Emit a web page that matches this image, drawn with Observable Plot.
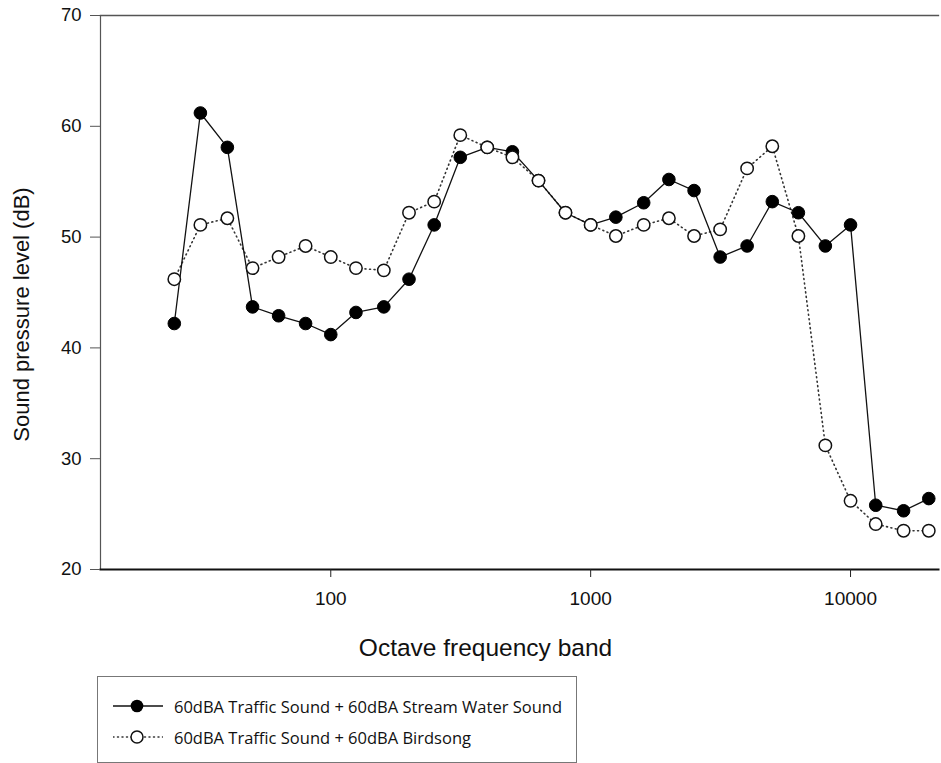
<!DOCTYPE html>
<html>
<head>
<meta charset="utf-8">
<script src="https://cdn.jsdelivr.net/npm/d3@7"></script>
<script src="https://cdn.jsdelivr.net/npm/@observablehq/plot@0.6"></script>
<style>
  html, body { margin: 0; padding: 0; background: #fff; }
  #wrap { position: relative; width: 941px; height: 763px; overflow: hidden; }
  #legend { position: absolute; left: 97px; top: 676px; width: 480px; height: 87px; border: 1px solid #777; box-sizing: border-box; font-family: "Open Sans", "Noto Sans", sans-serif; font-size: 16.5px; color: #111; }
  .row { position: absolute; left: 0; height: 20px; display: flex; align-items: center; }
  .row svg { position: absolute; left: 15px; top: 0; }
  .row span { position: absolute; left: 76px; white-space: nowrap; }
</style>
</head>
<body>
<div id="wrap">
  <div id="chart"></div>
  <div id="legend"></div>
</div>
<script>
const freqs = [25, 31.5, 40, 50, 63, 80, 100, 125, 160, 200, 250, 315, 400, 500, 630, 800, 1000, 1250, 1600, 2000, 2500, 3150, 4000, 5000, 6300, 8000, 10000, 12500, 16000, 20000];
const streamWater = [42.2, 61.2, 58.1, 43.7, 42.9, 42.2, 41.2, 43.2, 43.7, 46.2, 51.1, 57.2, 58.1, 57.7, 55.1, 52.2, 51.1, 51.8, 53.1, 55.2, 54.2, 48.2, 49.2, 53.2, 52.2, 49.2, 51.1, 25.8, 25.3, 26.4];
const birdsong = [46.2, 51.1, 51.7, 47.2, 48.2, 49.2, 48.2, 47.2, 47.0, 52.2, 53.2, 59.2, 58.1, 57.2, 55.1, 52.2, 51.1, 50.1, 51.1, 51.7, 50.1, 50.7, 56.2, 58.2, 50.1, 31.2, 26.2, 24.1, 23.5, 23.5];
const yTicks = [20, 30, 40, 50, 60, 70];
const xTicks = [100, 1000, 10000];
const seriesNames = ["60dBA Traffic Sound + 60dBA Stream Water Sound", "60dBA Traffic Sound + 60dBA Birdsong"];
const xTitle = "Octave frequency band";
const yTitle = "Sound pressure level (dB)";

const data = freqs.map((f, i) => ({f, stream: streamWater[i], bird: birdsong[i]}));

const chart = Plot.plot({
  width: 941,
  height: 670,
  marginLeft: 100,
  marginRight: 3,
  marginTop: 15,
  marginBottom: 101,
  style: {fontFamily: "'Liberation Sans', Arial, sans-serif", fontSize: "18px", color: "#111", background: "white", overflow: "visible"},
  x: {type: "log", domain: [13, 21800]},
  y: {domain: [20, 70]},
  marks: [
    Plot.frame({anchor: "top", stroke: "#555", strokeWidth: 1.3}),
    Plot.frame({anchor: "left", stroke: "#555", strokeWidth: 1.2}),
    Plot.frame({anchor: "bottom", stroke: "#111", strokeWidth: 2}),
    Plot.axisY({ticks: yTicks, tickSize: 10, tickPadding: 9, label: null, fontSize: 18.5, stroke: "#555"}),
    Plot.axisX({ticks: xTicks, tickSize: 8, tickPadding: 14, tickFormat: d3.format("d"), label: null, fontSize: 19, stroke: "#222"}),
    Plot.line(data, {x: "f", y: "bird", stroke: "#333", strokeWidth: 1.6, strokeDasharray: "1 3.5", strokeLinecap: "round"}),
    Plot.line(data, {x: "f", y: "stream", stroke: "#111", strokeWidth: 1.3}),
    Plot.dot(data, {x: "f", y: "stream", r: 6.3, fill: "#000", stroke: "#000", strokeWidth: 1}),
    Plot.dot(data, {x: "f", y: "bird", r: 6.2, fill: "#fff", stroke: "#111", strokeWidth: 1.5}),
    Plot.text([yTitle], {frameAnchor: "left", textAnchor: "middle", lineAnchor: "middle", dx: -79, dy: 22, rotate: -90, fontSize: 22, fill: "#111"}),
    Plot.text([xTitle], {frameAnchor: "bottom", textAnchor: "middle", lineAnchor: "middle", dx: -34, dy: 79, fontSize: 24.5, fill: "#111"})
  ]
});
document.getElementById("chart").appendChild(chart);

// legend (below the plot)
const legend = document.getElementById("legend");
const swatches = [
  `<svg width="50" height="20"><line x1="0" x2="50" y1="10" y2="10" stroke="#111" stroke-width="1.5"/><circle cx="24" cy="10" r="6.3" fill="#000"/></svg>`,
  `<svg width="50" height="20"><line x1="0" x2="50" y1="10" y2="10" stroke="#333" stroke-width="1.5" stroke-dasharray="1 3.5" stroke-linecap="round"/><circle cx="24" cy="10" r="6" fill="#fff" stroke="#111" stroke-width="1.5"/></svg>`
];
const rowCenters = [29, 60];
seriesNames.forEach((name, i) => {
  const row = document.createElement("div");
  row.className = "row";
  row.style.top = (rowCenters[i] - 10) + "px";
  row.innerHTML = swatches[i] + `<span>${name}</span>`;
  legend.appendChild(row);
});
</script>
</body>
</html>
